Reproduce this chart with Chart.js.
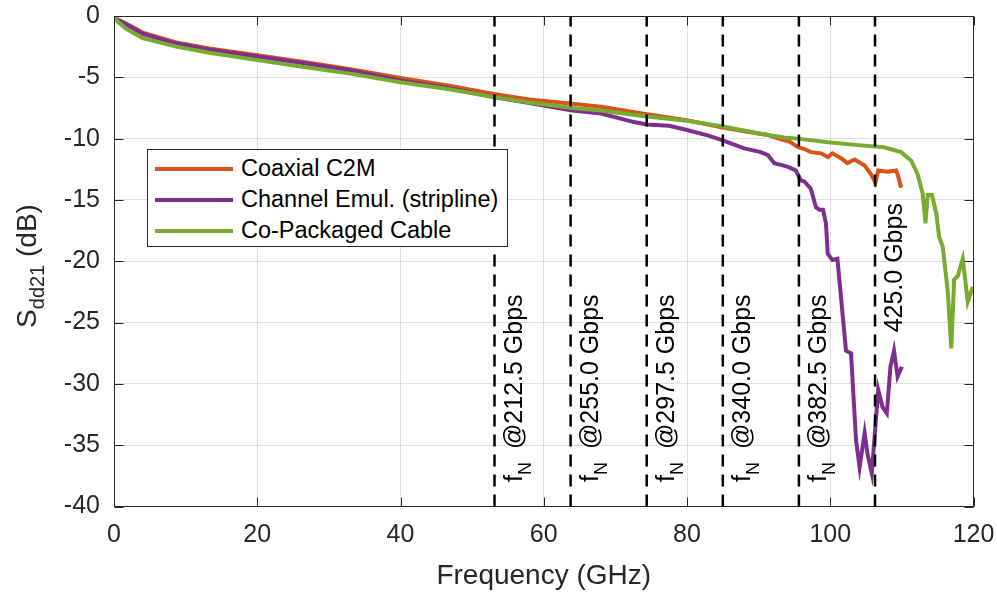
<!DOCTYPE html>
<html>
<head>
<meta charset="utf-8">
<script src="https://cdn.jsdelivr.net/npm/chart.js@4.4.1/dist/chart.umd.min.js"></script>
<style>
  html, body { margin:0; padding:0; background:#fff; }
  #wrap { position:relative; width:997px; height:594px; }
  #legend { position:absolute; left:147px; top:149px; width:361px; height:98px; box-sizing:border-box;
            border:1px solid #262626; background:#fff; padding-top:3px;
            font-family:'Liberation Sans', Arial, sans-serif; font-size:23.5px; color:#000; }
  .leg-i { display:flex; align-items:center; height:31px; white-space:nowrap; }
  .leg-line { width:78px; height:4px; margin:0 8px 0 7px; }
</style>
</head>
<body>
<div id="wrap">
  <canvas id="sdd21" width="997" height="594"></canvas>
  <div id="legend"></div>
</div>
<script>
// ── Sdd21 insertion loss vs frequency ──

const FONT = "'Liberation Sans', Arial, sans-serif";
const INK  = '#262626';

// Coaxial C2M
const c2mFreq = [0, 0.5, 1.7, 4, 8.7, 13.3, 20, 27, 33, 40, 47, 53, 58, 64, 68, 74.4, 80, 85, 88, 91.3,
                 93.1, 94.3, 95.5, 96.4, 97.3, 98.7, 99.7, 100.3, 101.5, 102.4, 103.4, 104.8, 105.7, 106.3, 106.7, 108.0, 109.2, 109.5, 109.9];
const c2mLoss = [0, -0.3, -0.62, -1.35, -2.15, -2.65, -3.2, -3.8, -4.35, -5.05, -5.7, -6.35, -6.8, -7.15, -7.4, -8.0, -8.5, -9.1, -9.4, -9.7,
                 -10.05, -10.25, -10.7, -10.85, -11.1, -11.2, -11.5, -11.2, -11.6, -12.0, -11.7, -12.2, -12.9, -13.6, -12.6, -12.7, -12.6, -13.1, -14.0];

// Channel emulator (stripline)
const emuFreq = [0, 0.5, 1.7, 4, 8.7, 13.3, 20, 27, 33, 40, 47, 53, 58, 64, 68, 72.6, 74.4, 77.5, 80, 83,
                 85, 88, 90.3, 91.3, 92.2, 93.5, 94.1, 95.2, 95.9, 96.4, 97.3, 98.0, 98.5, 99.0, 99.4, 99.65, 100.3, 101.0, 102.2, 102.9,
                 103.6, 104.1, 104.8, 105.2, 105.8, 106.3, 106.7, 107.3, 107.9, 108.4, 108.9, 109.4, 110.0];
const emuLoss = [0, -0.3, -0.7, -1.45, -2.25, -2.75, -3.3, -3.9, -4.45, -5.25, -5.9, -6.6, -7.1, -7.7, -7.95, -8.65, -8.85, -8.95, -9.3, -9.75,
                 -10.15, -10.8, -11.1, -11.35, -12.0, -12.2, -12.3, -12.6, -13.4, -13.5, -14.1, -15.6, -15.8, -15.8, -16.9, -19.4, -19.9, -19.8, -27.3, -27.5,
                 -34.6, -36.8, -34.0, -35.7, -37.3, -33.5, -30.5, -31.9, -32.4, -28.6, -27.3, -29.4, -28.6];

// Co-packaged cable
const cpcFreq = [0, 0.5, 1.7, 4, 8.7, 13.3, 20, 27, 33, 40, 47, 53, 58, 64, 68, 74.4, 80, 85, 90.3, 93.5,
                 95.5, 99.7, 104.3, 107.5, 109.9, 111.3, 112.2, 112.9, 113.3, 113.6, 114.2, 114.8, 115.2, 115.7, 116.4, 116.9, 117.3, 117.8, 118.5, 119.2, 119.9];
const cpcLoss = [0, -0.45, -1.05, -1.8, -2.5, -3.0, -3.6, -4.2, -4.7, -5.4, -6.0, -6.6, -7.05, -7.5, -7.7, -8.2, -8.55, -9.0, -9.6, -9.9,
                 -10.0, -10.3, -10.55, -10.7, -11.1, -11.8, -12.9, -14.5, -16.9, -14.6, -14.6, -16.1, -18.0, -18.8, -22.4, -27.1, -21.5, -21.2, -19.8, -23.3, -22.1];

const seriesNames  = ['Coaxial C2M', 'Channel Emul. (stripline)', 'Co-Packaged Cable'];
const seriesColors = ['#D95319', '#7E2F8E', '#77AC30'];

// Nyquist frequencies (GHz) and their rate labels
const nyqGHz    = [53.125, 63.75, 74.375, 85.0, 95.625, 106.25];
const nyqText   = ['@212.5 Gbps', '@255.0 Gbps', '@297.5 Gbps', '@340.0 Gbps', '@382.5 Gbps', '425.0 Gbps'];
const nyqWithFn = [true, true, true, true, true, false];

const xTickVals = [0, 20, 40, 60, 80, 100, 120];
const yTickVals = [0, -5, -10, -15, -20, -25, -30, -35, -40];

const pts = (f, v) => f.map((x, i) => ({ x, y: v[i] }));

const datasets = [
  { label: seriesNames[0], data: pts(c2mFreq, c2mLoss), borderColor: seriesColors[0], order: 2 },
  { label: seriesNames[1], data: pts(emuFreq, emuLoss), borderColor: seriesColors[1], order: 1 },
  { label: seriesNames[2], data: pts(cpcFreq, cpcLoss), borderColor: seriesColors[2], order: 0 },
].map(d => ({ ...d, showLine: true, borderWidth: 4, pointRadius: 0, tension: 0, fill: false }));

// axes box, inward ticks, Nyquist markers and the axis titles
const decor = {
  id: 'decor',
  afterDatasetsDraw(chart) {
    const { ctx, chartArea: a, scales: { x, y } } = chart;
    ctx.save();

    // dashed Nyquist markers
    ctx.strokeStyle = '#000'; ctx.lineWidth = 2.5; ctx.setLineDash([12, 8]);
    nyqGHz.forEach(f => {
      const px = x.getPixelForValue(f);
      ctx.beginPath(); ctx.moveTo(px, a.bottom); ctx.lineTo(px, a.top); ctx.stroke();
    });
    ctx.setLineDash([]);

    // rotated marker labels
    ctx.fillStyle = '#000'; ctx.textAlign = 'left'; ctx.textBaseline = 'alphabetic';
    nyqGHz.forEach((f, i) => {
      const px = x.getPixelForValue(f);
      const py = y.getPixelForValue(nyqWithFn[i] ? -38.0 : -25.8);
      ctx.save();
      ctx.translate(px + 27, py);
      ctx.rotate(-Math.PI / 2);
      let cx = 0;
      if (nyqWithFn[i]) {
        ctx.font = `25px ${FONT}`; ctx.fillText('f', 0, 0); cx = ctx.measureText('f').width;
        ctx.font = `18px ${FONT}`; ctx.fillText('N', cx, 9); cx += ctx.measureText('N').width + 13;
      }
      ctx.font = `25px ${FONT}`; ctx.fillText(nyqText[i], cx, 0);
      ctx.restore();
    });

    // box with inward ticks on all four sides
    ctx.strokeStyle = INK; ctx.lineWidth = 1;
    const L = Math.round(a.left) + 0.5, R = Math.round(a.right) - 0.5;
    const T = Math.round(a.top) + 0.5,  B = Math.round(a.bottom) - 0.5;
    ctx.strokeRect(L, T, R - L, B - T);
    ctx.beginPath();
    xTickVals.forEach(v => {
      const px = Math.round(x.getPixelForValue(v)) + 0.5;
      ctx.moveTo(px, B); ctx.lineTo(px, B - 9);
      ctx.moveTo(px, T); ctx.lineTo(px, T + 9);
    });
    yTickVals.forEach(v => {
      const py = Math.round(y.getPixelForValue(v)) + 0.5;
      ctx.moveTo(L, py); ctx.lineTo(L + 9, py);
      ctx.moveTo(R, py); ctx.lineTo(R - 9, py);
    });
    ctx.stroke();

    // axis titles
    ctx.fillStyle = INK;
    ctx.font = `28px ${FONT}`; ctx.textAlign = 'center';
    ctx.fillText('Frequency (GHz)', (a.left + a.right) / 2, 584);

    ctx.save();
    ctx.translate(36, 266);
    ctx.rotate(-Math.PI / 2);
    ctx.textAlign = 'left';
    ctx.font = `28px ${FONT}`; const wS = ctx.measureText('S').width, wR = ctx.measureText(' (dB)').width;
    ctx.font = `20px ${FONT}`; const wSub = ctx.measureText('dd21').width;
    const x0 = -(wS + wSub + wR) / 2;
    ctx.font = `28px ${FONT}`; ctx.fillText('S', x0, 0);
    ctx.font = `20px ${FONT}`; ctx.fillText('dd21', x0 + wS, 8);
    ctx.font = `28px ${FONT}`; ctx.fillText(' (dB)', x0 + wS + wSub, 0);
    ctx.restore();

    ctx.restore();
  }
};

const tickFont = { family: FONT, size: 25 };
const gridCol  = 'rgba(38,38,38,0.15)';

new Chart(document.getElementById('sdd21'), {
  type: 'scatter',
  data: { datasets },
  options: {
    responsive: false, animation: false, devicePixelRatio: 1,
    layout: { padding: { top: 16, right: 23.5, left: 0, bottom: 0 } },
    plugins: { legend: { display: false }, tooltip: { enabled: false } },
    scales: {
      x: {
        type: 'linear', min: 0, max: 120,
        afterBuildTicks: s => { s.ticks = xTickVals.map(value => ({ value })); },
        afterFit: s => { s.height = 87.5; s.paddingLeft = 0; s.paddingRight = 0; },
        ticks: { font: tickFont, color: INK, padding: 14, maxRotation: 0, autoSkip: false },
        grid: { color: gridCol, drawTicks: false },
        border: { display: false },
      },
      y: {
        type: 'linear', min: -40, max: 0,
        afterBuildTicks: s => { s.ticks = yTickVals.map(value => ({ value })); },
        afterFit: s => { s.width = 114; s.paddingTop = 0; s.paddingBottom = 0; },
        ticks: { font: tickFont, color: INK, padding: 14, autoSkip: false },
        grid: { color: gridCol, drawTicks: false },
        border: { display: false },
      },
    },
  },
  plugins: [decor],
});

function legend(id, ds) {
  document.getElementById(id).innerHTML = ds.map(d =>
    `<div class="leg-i"><div class="leg-line" style="background:${d.borderColor}"></div>${d.label}</div>`
  ).join('');
}
legend('legend', datasets);
</script>
</body>
</html>
